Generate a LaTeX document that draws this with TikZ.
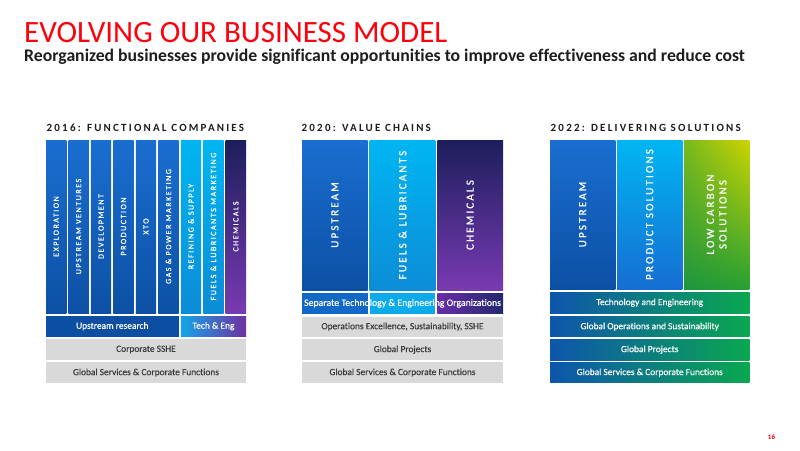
\documentclass[tikz,border=0pt]{standalone}
\usepackage{fontspec}
\usetikzlibrary{shadings}
\setmainfont{Carlito}[Ligatures=NoCommon]
\definecolor{exred}{RGB}{254,0,12}
\definecolor{upT}{RGB}{26,110,208}
\definecolor{upB}{RGB}{12,80,165}
\definecolor{ltT}{RGB}{0,182,242}
\definecolor{ltB}{RGB}{12,140,215}
\definecolor{chT}{RGB}{28,30,92}
\definecolor{chB}{RGB}{120,58,178}
\definecolor{psB}{RGB}{22,110,210}
\definecolor{lcTR}{RGB}{205,212,0}
\definecolor{lcTL}{RGB}{120,185,30}
\definecolor{lcBR}{RGB}{40,160,50}
\definecolor{lcBL}{RGB}{30,150,60}
\definecolor{barL}{RGB}{14,85,172}
\definecolor{barR}{RGB}{10,168,80}
\definecolor{greybar}{RGB}{217,217,217}
\definecolor{greytxt}{RGB}{60,60,60}
\definecolor{urbar}{RGB}{12,78,162}
\definecolor{teL}{RGB}{20,165,232}
\definecolor{teR}{RGB}{112,48,160}
\definecolor{sbBlue}{RGB}{18,104,198}
\definecolor{sbLt}{RGB}{10,170,235}
\definecolor{sbPurL}{RGB}{105,45,170}
\definecolor{sbPurR}{RGB}{35,40,110}
\definecolor{hdr}{RGB}{30,30,30}
\tikzset{
  box/.style={rectangle, inner sep=0pt, outer sep=0pt, anchor=north west},
  coltext/.style={rotate=90, inner sep=0pt, text=white, font=\fontsize{8}{8}\selectfont\addfontfeature{LetterSpace=19,FakeBold=0.8}},
  bigcoltext/.style={rotate=90, inner sep=0pt, text=white, align=center, font=\fontsize{11}{12.5}\selectfont\addfontfeature{LetterSpace=20,FakeBold=0.8}},
  hdrtext/.style={anchor=base west, inner sep=0pt, text=hdr, font=\fontsize{11}{11}\selectfont\bfseries\addfontfeature{LetterSpace=20}},
  bartext/.style={inner sep=0pt, font=\fontsize{9.4}{9.4}\selectfont\addfontfeature{FakeBold=0.5}},
  greybox/.style={box, fill=greybar},
}
\newcommand\pcol[5]{%
  \node[box, minimum width=20.3pt, minimum height=173pt, top color=#3, bottom color=#4] (#1) at (#2,140) {};
  \node[coltext] (#1t) at (#1.center) {#5};}
\begin{document}
\begin{tikzpicture}[x=1pt,y=-1pt]
\useasboundingbox (0,0) rectangle (800,450);
\fill[white] (0,0) rectangle (800,450);
% titles
\node[anchor=base west, inner sep=0pt, text=exred, font=\fontsize{31}{31}\selectfont] (title) at (24,42) {EVOLVING OUR BUSINESS MODEL};
\node[anchor=base west, inner sep=0pt, text=hdr, font=\fontsize{17.7}{18}\selectfont\bfseries] (subtitle) at (24,61) {Reorganized businesses provide significant opportunities to improve effectiveness and reduce cost};
% panel headers
\node[hdrtext] (h1) at (46.5,131) {2016: FUNCTIONAL COMPANIES};
\node[hdrtext] (h2) at (301.5,131) {2020: VALUE CHAINS};
\node[hdrtext] (h3) at (550.5,131) {2022: DELIVERING SOLUTIONS};
% panel 1 columns
\pcol{c1}{46}{upT}{upB}{EXPLORATION}
\pcol{c2}{68.47}{upT}{upB}{UPSTREAM VENTURES}
\pcol{c3}{90.93}{upT}{upB}{DEVELOPMENT}
\pcol{c4}{113.4}{upT}{upB}{PRODUCTION}
\pcol{c5}{135.87}{upT}{upB}{XTO}
\pcol{c6}{158.33}{upT}{upB}{GAS \& POWER MARKETING}
\pcol{c7}{180.8}{ltT}{ltB}{REFINING \& SUPPLY}
\pcol{c8}{203.27}{ltT}{ltB}{FUELS \& LUBRICANTS MARKETING}
\pcol{c9}{225.73}{chT}{chB}{CHEMICALS}
% panel 1 bars
\node[box, fill=urbar, minimum width=132.6pt, minimum height=20.5pt] (ur) at (46,316) {};
\node[bartext, text=white] (urt) at (ur.center) {Upstream research};
\node[box, left color=teL, right color=teR, minimum width=65.3pt, minimum height=20.5pt] (te) at (180.8,316) {};
\node[bartext, text=white] (tet) at (te.center) {Tech \& Eng};
\node[greybox, minimum width=200pt, minimum height=21pt] (sshe) at (46,339) {};
\node[bartext, text=greytxt] (sshet) at (sshe.center) {Corporate SSHE};
\node[greybox, minimum width=200pt, minimum height=20.7pt] (gs1) at (46,362.3) {};
\node[bartext, text=greytxt] (gs1t) at (gs1.center) {Global Services \& Corporate Functions};
% panel 2 columns
\node[box, top color=upT, bottom color=upB, minimum width=65.7pt, minimum height=150pt] (v1) at (302,140) {};
\node[bigcoltext] (v1t) at (v1.center) {UPSTREAM};
\node[box, top color=ltT, bottom color=ltB, minimum width=65.7pt, minimum height=150pt] (v2) at (369.7,140) {};
\node[bigcoltext] (v2t) at (v2.center) {FUELS \& LUBRICANTS};
\node[box, top color=chT, bottom color=chB, minimum width=65.7pt, minimum height=150pt] (v3) at (437.3,140) {};
\node[bigcoltext] (v3t) at (v3.center) {CHEMICALS};
% panel 2 bars
\node[box, fill=sbBlue, minimum width=65.7pt, minimum height=20.3pt] (s1) at (302,293.2) {};
\node[box, fill=sbLt, minimum width=65.7pt, minimum height=20.3pt] (s2) at (369.7,293.2) {};
\node[box, left color=sbPurL, right color=sbPurR, minimum width=65.7pt, minimum height=20.3pt] (s3) at (437.3,293.2) {};
\node[bartext, text=white, font=\fontsize{9.8}{9.8}\selectfont\addfontfeature{FakeBold=0.5}] (st) at (s2.center) {Separate Technology \& Engineering Organizations};
\node[greybox, minimum width=201pt, minimum height=20.2pt] (ops) at (302,316.6) {};
\node[bartext, text=greytxt] (opst) at (ops.center) {Operations Excellence, Sustainability, SSHE};
\node[greybox, minimum width=201pt, minimum height=20.7pt] (gp2) at (302,339.3) {};
\node[bartext, text=greytxt] (gp2t) at (gp2.center) {Global Projects};
\node[greybox, minimum width=201pt, minimum height=20.5pt] (gs2) at (302,362.3) {};
\node[bartext, text=greytxt] (gs2t) at (gs2.center) {Global Services \& Corporate Functions};
% panel 3 columns
\node[box, top color=upT, bottom color=upB, minimum width=65.3pt, minimum height=149pt] (d1) at (550,140) {};
\node[bigcoltext] (d1t) at (d1.center) {UPSTREAM};
\node[box, top color=ltT, bottom color=psB, minimum width=65.3pt, minimum height=149pt] (d2) at (617,140) {};
\node[bigcoltext] (d2t) at (d2.center) {PRODUCT SOLUTIONS};
\node[box, upper left=lcTL, upper right=lcTR, lower left=lcBL, lower right=lcBR, minimum width=65.3pt, minimum height=149pt] (d3) at (684,140) {};
\node[bigcoltext] (d3t) at (d3.center) {LOW CARBON\\SOLUTIONS};
% panel 3 bars
\node[box, left color=barL, right color=barR, minimum width=199.5pt, minimum height=21pt] (tae) at (550,292.2) {};
\node[bartext, text=white] (taet) at (tae.center) {Technology and Engineering};
\node[box, left color=barL, right color=barR, minimum width=199.5pt, minimum height=20.2pt] (gos) at (550,316.6) {};
\node[bartext, text=white] (gost) at (gos.center) {Global Operations and Sustainability};
\node[box, left color=barL, right color=barR, minimum width=199.5pt, minimum height=20.7pt] (gp3) at (550,339.3) {};
\node[bartext, text=white] (gp3t) at (gp3.center) {Global Projects};
\node[box, left color=barL, right color=barR, minimum width=199.5pt, minimum height=20.5pt] (gs3) at (550,362.3) {};
\node[bartext, text=white] (gs3t) at (gs3.center) {Global Services \& Corporate Functions};
% page number
\node[inner sep=0pt, text=exred, font=\fontsize{7}{7}\selectfont\bfseries] (pg) at (771.5,437.5) {16};
\end{tikzpicture}
\end{document}
